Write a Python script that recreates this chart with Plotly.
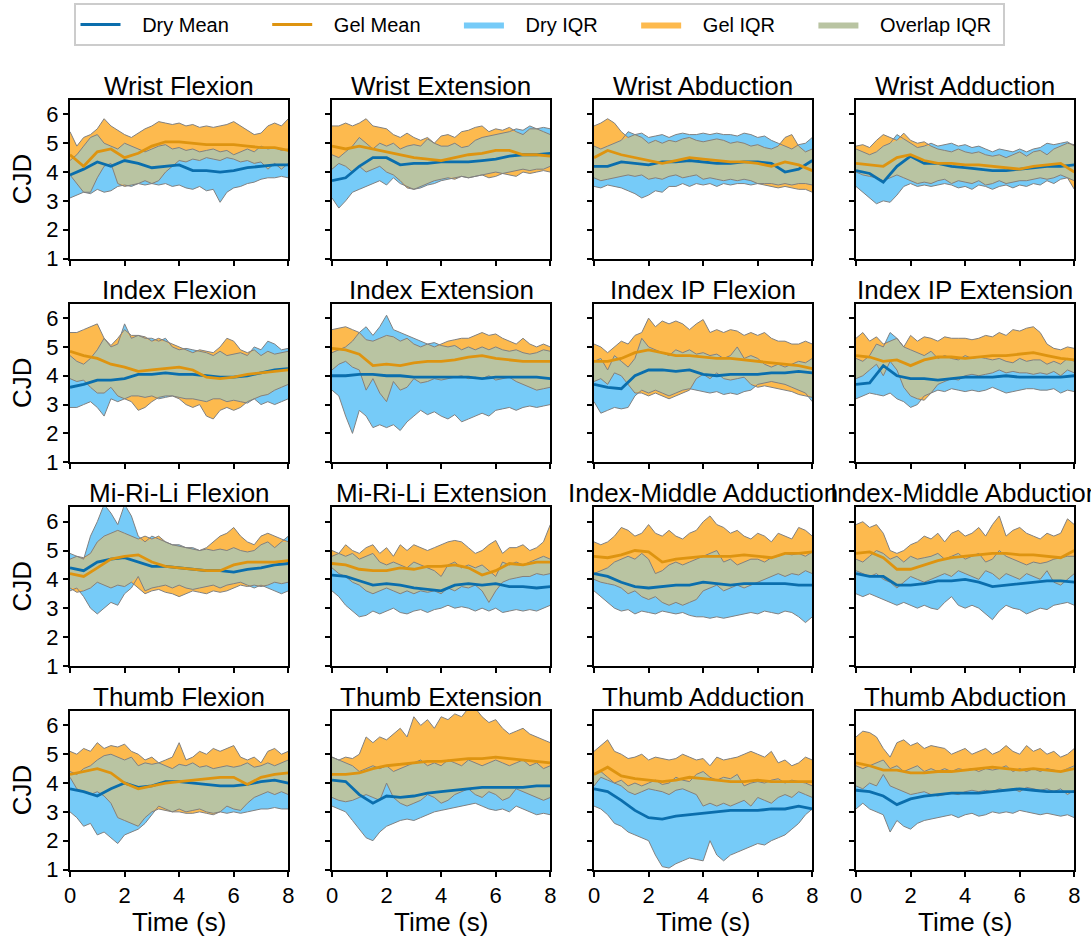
import numpy as np
import plotly.graph_objects as go

TITLES = ["Wrist Flexion", "Wrist Extension", "Wrist Abduction", "Wrist Adduction",
          "Index Flexion", "Index Extension", "Index IP Flexion", "Index IP Extension",
          "Mi-Ri-Li Flexion", "Mi-Ri-Li Extension", "Index-Middle Adduction", "Index-Middle Abduction",
          "Thumb Flexion", "Thumb Extension", "Thumb Adduction", "Thumb Abduction"]

# time grids (s)
TIME_IQR = np.linspace(0, 8, 33)
TIME_MEAN = np.linspace(0, 8, 17)

X_TICKS = [0, 2, 4, 6, 8]
Y_TICKS = [1, 2, 3, 4, 5, 6]

# ---------------- Dry IQR lower bound (Q1) ----------------
DRY_Q1 = {
"Wrist Flexion": [3.1,3.2,3.3,3.25, 3.4,3.3,3.35,3.5, 3.55,3.5,3.6,3.55, 3.6,3.55,3.6,3.5, 3.55,3.45,3.4,3.5, 3.35,3.4,2.95,3.3, 3.45,3.5,3.6,3.65, 3.75,3.8,3.8,3.85, 3.8],
"Wrist Extension": [3.1,2.75,3.0,3.3, 3.4,3.5,3.6,3.7, 3.55,3.8,3.6,3.5, 3.4,3.45,3.55,3.6, 3.7,3.75,3.8,3.85, 3.8,3.85,3.9,3.95, 4.0,3.95,4.0,4.05, 4.1,4.05,4.1,4.1, 4.2],
"Wrist Abduction": [3.5,3.45,3.55,3.5, 3.45,3.35,3.25,3.1, 3.2,3.35,3.3,3.5, 3.5,3.6,3.5,3.6, 3.55,3.6,3.5,3.6, 3.55,3.6,3.6,3.55, 3.6,3.6,3.6,3.55, 3.6,3.55,3.6,3.6, 3.55],
"Wrist Adduction": [3.5,3.3,3.1,2.9, 3.0,2.95,3.2,3.5, 3.6,3.5,3.55,3.5, 3.55,3.6,3.55,3.45, 3.5,3.4,3.55,3.5, 3.4,3.5,3.55,3.45, 3.55,3.5,3.6,3.55, 3.7,3.6,3.75,3.8, 3.7],
"Index Flexion": [2.9,2.9,3.0,3.1, 2.9,2.6,3.2,3.1, 3.2,3.3,3.3,3.25, 3.3,3.2,3.25,3.3, 3.25,3.2,3.2,3.15, 3.1,3.2,3.2,3.1, 3.15,3.1,3.05,3.2, 3.0,3.1,3.0,3.1, 3.2],
"Index Extension": [3.5,3.3,2.6,2.0, 2.8,2.6,2.2,2.3, 2.2,2.3,2.1,2.4, 2.6,2.8,2.65,2.75, 2.6,2.5,2.65,2.4, 2.5,2.6,2.7,2.6, 2.8,2.85,2.9,2.8, 2.9,2.95,2.9,2.95, 3.0],
"Index IP Flexion": [3.1,2.7,2.8,2.9, 2.85,2.9,3.3,3.5, 3.4,3.5,3.4,3.3, 3.4,3.5,3.55,3.5, 3.45,3.4,3.45,3.35, 3.4,3.35,3.45,3.5, 3.7,3.75,3.8,3.75, 3.7,3.6,3.5,3.4, 3.1],
"Index IP Extension": [3.2,3.3,3.4,3.35, 3.3,3.4,3.2,3.1, 2.9,3.0,3.3,3.4, 3.5,3.45,3.55,3.5, 3.45,3.5,3.45,3.5, 3.6,3.5,3.4,3.45, 3.5,3.55,3.55,3.5, 3.5,3.55,3.4,3.5, 3.45],
"Mi-Ri-Li Flexion": [3.6,3.7,3.4,3.0, 2.8,3.0,3.2,3.1, 3.5,3.7,4.1,3.6, 3.7,3.75,3.8,3.7, 3.8,3.7,3.65,3.7, 3.75,3.8,3.7,3.8, 3.85,3.9,3.8,3.7, 3.8,3.7,3.6,3.5, 3.6],
"Mi-Ri-Li Extension": [3.6,3.4,3.1,2.9, 2.7,2.75,2.9,2.8, 2.9,3.0,2.85,2.8, 2.9,2.95,2.85,2.95, 3.0,3.1,3.0,3.05, 3.0,2.9,3.0,2.9, 3.0,2.85,2.9,2.95, 2.9,2.95,2.9,3.0, 3.1],
"Index-Middle Adduction": [3.6,3.4,3.2,3.0, 2.9,2.95,2.8,2.9, 2.85,2.8,2.9,2.85, 2.8,2.85,2.75,2.7, 2.7,2.65,2.7,2.65, 2.7,2.75,2.8,2.85, 2.8,2.9,2.85,2.8, 2.9,2.85,2.7,2.5, 2.7],
"Index-Middle Abduction": [3.5,3.4,3.5,3.4, 3.3,3.2,3.1,3.2, 3.1,3.0,3.1,3.0, 2.95,3.2,3.4,3.1, 3.0,3.1,3.0,2.8, 2.6,2.9,3.1,3.0, 2.95,2.8,2.9,3.0, 2.95,3.1,3.15,3.2, 3.1],
"Thumb Flexion": [3.0,2.8,2.5,2.6, 2.2,2.3,2.1,1.9, 2.2,2.3,2.4,2.6, 2.9,3.2,3.1,3.0, 3.1,3.0,3.05,3.1, 3.0,2.95,3.0,2.95, 3.0,2.95,3.0,3.05, 3.1,3.1,3.15,3.1, 3.1],
"Thumb Extension": [3.2,3.1,3.0,2.7, 2.4,2.1,2.0,2.3, 2.5,2.6,2.7,2.75, 2.7,2.8,2.9,3.0, 3.05,3.1,3.15,3.2, 3.25,3.3,3.2,3.1, 3.05,3.1,3.0,3.2, 3.1,3.0,2.9,2.95, 2.9],
"Thumb Adduction": [3.2,3.1,2.9,2.6, 2.5,2.3,2.2,2.1, 2.0,1.5,1.1,1.05, 1.2,1.3,1.4,1.35, 1.3,2.0,1.5,1.3, 1.5,1.6,1.7,1.8, 1.9,1.85,2.0,2.1, 2.2,2.4,2.6,2.9, 3.1],
"Thumb Abduction": [3.1,3.3,3.1,3.0, 2.9,2.3,2.7,2.5, 2.4,2.6,2.7,2.75, 2.8,2.85,2.9,2.8, 2.9,2.95,2.85,2.9, 3.0,2.95,3.0,2.95, 3.05,3.0,2.95,2.9, 2.95,2.9,2.85,2.9, 2.8],
}

# ---------------- Dry IQR upper bound (Q3) ----------------
DRY_Q3 = {
"Wrist Flexion": [4.4,4.6,4.9,5.2, 5.3,5.0,4.9,4.8, 5.0,4.9,4.8,4.7, 4.8,4.9,4.95,4.8, 4.85,4.75,4.8,4.7, 4.75,4.8,4.7,4.75, 4.6,4.7,4.8,4.7, 4.9,4.8,4.85,4.75, 4.8],
"Wrist Extension": [4.6,4.5,4.7,4.9, 5.2,5.0,4.8,5.0, 4.9,5.0,4.8,4.9, 4.95,4.9,5.15,5.0, 4.9,4.9,5.0,4.85, 4.9,5.1,5.2,5.25, 5.3,5.35,5.4,5.5, 5.45,5.6,5.5,5.55, 5.5],
"Wrist Abduction": [4.9,4.8,4.9,5.0, 5.1,5.4,5.3,5.35, 5.2,5.25,5.3,5.2, 5.3,5.35,5.3,5.3, 5.35,5.3,5.35,5.3, 5.3,5.25,5.35,5.3, 5.2,5.25,5.1,5.0, 4.9,4.8,4.95,5.0, 5.2],
"Wrist Adduction": [4.8,4.7,4.6,4.7, 4.9,5.0,5.3,5.15, 5.0,4.85,4.9,5.0, 4.9,4.95,5.0,4.9, 4.95,4.85,4.9,4.8, 4.7,4.8,4.75,4.7, 4.8,4.7,4.8,4.85, 5.0,4.95,5.0,5.05, 4.9],
"Index Flexion": [4.7,4.5,4.4,4.6, 4.9,5.3,5.0,5.1, 5.8,5.3,5.4,5.3, 5.3,5.2,5.3,5.0, 4.9,4.95,4.9,4.85, 4.8,4.7,4.85,4.7, 4.75,4.8,4.7,5.0, 4.9,5.2,5.1,4.9, 4.95],
"Index Extension": [4.8,4.9,5.0,5.2, 5.5,5.7,5.4,5.7, 6.1,5.6,5.5,5.4, 5.3,5.2,5.1,5.15, 5.05,5.0,5.05,4.9, 5.0,4.9,5.0,4.9, 5.0,4.9,4.85,4.9, 4.8,4.75,4.8,4.9, 4.85],
"Index IP Flexion": [4.5,4.6,4.2,4.7, 4.5,4.3,4.6,5.3, 5.0,4.9,4.8,4.7, 4.9,4.8,4.9,4.75, 4.8,4.7,4.75,4.6, 4.7,5.0,4.6,4.7, 4.6,4.4,4.3,4.4, 4.3,4.4,4.5,4.45, 4.6],
"Index IP Extension": [4.6,4.5,4.7,5.1, 5.0,5.5,5.3,5.0, 4.9,4.8,4.7,4.85, 4.6,4.7,4.6,4.55, 4.7,4.6,4.65,4.6, 4.55,4.6,4.5,4.45, 4.6,4.5,4.55,4.55, 4.4,4.5,4.4,4.6, 4.5],
"Mi-Ri-Li Flexion": [4.9,4.8,4.7,5.5, 6.0,6.6,6.3,5.9, 6.6,6.2,5.5,5.3, 5.5,5.4,5.3,5.2, 5.2,5.1,5.1,5.0, 5.05,5.0,5.05,5.0, 5.1,5.0,4.95,5.0, 5.2,5.3,5.1,5.3, 5.5],
"Mi-Ri-Li Extension": [4.8,4.9,4.8,4.9, 4.7,4.8,4.9,4.6, 4.5,4.6,4.5,4.4, 4.6,4.5,4.4,4.3, 4.1,4.5,4.6,4.4, 4.5,4.4,4.5,4.3, 4.1,4.6,4.5,4.6, 4.5,4.6,4.7,4.8, 4.7],
"Index-Middle Adduction": [4.2,4.3,4.4,4.6, 4.7,4.8,4.7,4.9, 4.7,4.2,4.3,4.5, 4.6,4.5,4.6,4.7, 4.8,4.9,5.0,4.6, 4.7,4.5,4.6,4.7, 4.7,4.6,4.75,4.8, 4.9,4.85,4.9,4.8, 4.95],
"Index-Middle Abduction": [4.7,4.6,4.8,5.0, 4.9,4.7,4.8,4.6, 4.8,4.7,4.75,4.8, 4.9,4.7,4.8,4.9, 4.7,4.8,4.9,4.6, 4.7,5.0,4.8,4.7, 4.6,4.5,4.6,4.55, 4.6,4.7,4.75,4.8, 4.8],
"Thumb Flexion": [4.4,4.3,4.5,4.6, 4.8,4.95,5.0,4.9, 4.8,4.9,4.6,4.7, 4.65,4.7,4.6,4.5, 4.65,4.6,4.7,4.55, 4.6,4.5,4.55,4.6, 4.55,4.6,4.7,4.55, 4.6,4.7,4.6,4.7, 4.8],
"Thumb Extension": [4.9,4.8,4.7,4.6, 4.4,4.5,4.6,4.5, 4.6,4.4,4.5,4.6, 4.7,4.8,4.6,4.7, 4.6,4.8,4.7,4.6, 4.8,4.7,4.6,4.7, 4.8,4.7,4.6,4.7, 4.8,4.6,4.7,4.5, 4.6],
"Thumb Adduction": [4.3,4.4,4.2,4.0, 4.1,3.9,4.0,3.9, 4.0,4.1,3.95,4.0, 4.2,4.1,4.05,4.3, 4.4,4.2,4.1,4.2, 4.15,4.3,3.9,4.0, 4.05,4.0,4.1,4.15, 4.0,4.1,4.05,4.0, 3.9],
"Thumb Abduction": [4.6,4.5,4.6,4.7, 4.8,4.5,4.6,4.4, 4.5,4.6,4.4,4.5, 4.4,4.5,4.4,4.5, 4.45,4.5,4.4,4.5, 4.45,4.5,4.6,4.4, 4.5,4.4,4.5,4.4, 4.5,4.45,4.4,4.5, 4.6],
}

# ---------------- Gel IQR lower bound (Q1) ----------------
GEL_Q1 = {
"Wrist Flexion": [3.9,3.6,3.3,3.3, 3.8,4.2,4.3,3.6, 3.5,3.55,3.6,3.7, 3.6,3.7,4.0,4.2, 4.4,4.35,4.45,4.4, 4.5,4.45,4.4,4.5, 4.45,4.35,4.4,4.3, 4.35,4.1,4.3,4.1, 4.3],
"Wrist Extension": [4.1,4.3,4.2,4.0, 4.2,4.0,4.1,4.2, 4.0,3.9,3.7,3.45, 3.4,3.5,3.6,3.7, 3.75,3.8,3.75,3.85, 3.8,3.85,3.9,3.8, 3.85,3.95,3.9,3.85, 4.0,3.95,4.0,4.05, 4.0],
"Wrist Abduction": [3.8,3.7,3.75,3.8, 3.85,3.9,3.85,3.9, 3.75,3.8,3.75,3.85, 3.9,3.8,3.85,3.9, 3.75,3.8,3.75,3.7, 3.75,3.7,3.75,3.7, 3.6,3.55,3.5,3.45, 3.5,3.45,3.4,3.4, 3.3],
"Wrist Adduction": [4.0,3.9,3.85,3.8, 3.7,3.8,3.9,3.8, 3.7,3.6,3.65,3.6, 3.7,3.75,3.6,3.7, 3.65,3.6,3.7,3.55, 3.6,3.7,3.6,3.65, 3.7,3.7,3.75,3.8, 3.75,3.8,3.9,3.8, 3.4],
"Index Flexion": [3.9,3.8,3.85,3.6, 3.4,3.4,3.6,3.3, 3.2,3.1,2.8,2.9, 3.1,3.25,3.3,3.3, 3.2,3.0,2.9,3.0, 2.6,2.5,2.8,2.9, 2.8,2.9,3.1,3.2, 3.3,3.35,3.5,3.6, 3.7],
"Index Extension": [4.2,4.4,4.5,4.3, 4.2,3.5,3.9,3.4, 3.1,3.8,3.5,3.6, 3.9,3.75,3.8,3.9, 3.85,3.9,3.95,4.0, 3.9,3.95,3.9,4.0, 3.85,3.9,3.95,3.8, 3.7,3.6,3.5,3.55, 3.6],
"Index IP Flexion": [3.8,3.9,3.7,4.1, 4.0,3.7,3.4,3.4, 3.3,3.4,3.3,3.2, 3.3,3.4,3.5,3.9, 4.05,3.9,4.1,3.9, 3.85,3.9,3.95,3.7, 3.6,3.65,3.6,3.55, 3.5,3.45,3.35,3.3, 3.25],
"Index IP Extension": [3.9,4.0,4.2,4.4, 4.0,4.5,4.2,3.6, 3.3,3.2,3.15,3.4, 3.7,3.8,3.9,3.85, 4.0,4.05,4.0,4.05, 4.1,4.2,4.1,4.15, 4.1,4.1,4.05,4.1, 4.05,4.15,4.0,4.2, 4.1],
"Mi-Ri-Li Flexion": [3.7,3.55,3.6,3.7, 3.9,3.8,3.7,3.8, 3.75,3.9,3.7,3.5, 3.6,3.65,3.55,3.5, 3.4,3.5,3.6,3.55, 3.5,3.6,3.55,3.6, 3.7,3.8,3.75,3.8, 3.75,3.8,3.9,3.85, 3.9],
"Mi-Ri-Li Extension": [4.4,4.2,4.1,3.9, 3.8,3.6,3.5,3.6, 3.7,3.6,3.5,3.6, 3.5,3.6,3.55,3.6, 3.5,3.7,3.6,3.75, 3.7,3.8,3.6,3.2, 3.6,3.9,4.0,4.05, 4.1,4.1,4.2,4.15, 4.2],
"Index-Middle Adduction": [4.0,3.9,3.85,3.8, 3.7,3.5,3.6,3.4, 3.3,3.4,3.2,3.1, 3.2,3.1,3.2,3.3, 3.6,3.7,3.8,3.6, 3.7,3.8,3.7,3.8, 3.9,4.0,4.1,4.2, 4.1,4.2,4.15,4.3, 4.2],
"Index-Middle Abduction": [4.3,4.2,4.1,4.2, 4.0,3.9,3.7,3.9, 4.1,4.0,3.9,4.0, 4.1,4.2,4.1,4.3, 4.2,4.1,4.0,4.3, 4.2,4.0,4.2,4.1, 4.0,4.2,4.1,4.0, 4.3,3.9,3.8,4.0, 4.2],
"Thumb Flexion": [4.2,3.8,3.7,3.6, 3.7,3.55,3.3,2.8, 2.7,2.6,2.5,2.8, 3.0,3.1,3.05,3.0, 3.0,2.95,2.95,3.0, 2.95,2.9,3.0,3.2, 3.1,3.05,3.3,3.5, 3.6,3.7,3.6,3.7, 3.6],
"Thumb Extension": [3.5,3.4,3.35,3.4, 3.5,3.6,3.5,3.4, 4.0,3.5,3.3,3.2, 3.3,3.4,3.6,3.5, 3.3,3.4,3.6,3.7, 3.8,3.6,3.5,3.7, 3.6,3.4,3.5,3.8, 3.7,3.6,3.5,3.4, 3.5],
"Thumb Adduction": [3.9,4.2,4.1,4.0, 3.9,3.7,3.6,3.7, 3.8,3.75,3.7,3.6, 3.75,3.8,3.7,3.6, 3.2,3.3,3.2,3.3, 3.2,3.3,3.4,3.2, 3.5,3.4,3.3,3.5, 3.6,3.5,3.7,3.6, 3.5],
"Thumb Abduction": [3.9,3.8,4.0,3.9, 4.3,3.9,3.8,3.7, 3.6,3.65,3.7,3.6, 3.55,3.6,3.65,3.6, 3.7,3.75,3.7,3.75, 3.7,3.8,3.75,3.8, 3.7,3.85,3.8,3.75, 3.8,3.7,3.8,3.6, 3.75],
}

# ---------------- Gel IQR upper bound (Q3) ----------------
GEL_Q3 = {
"Wrist Flexion": [5.4,4.9,5.2,5.3, 5.5,5.85,5.6,5.45, 5.3,5.2,5.35,5.5, 5.6,5.75,5.7,5.65, 5.7,5.6,5.65,5.55, 5.6,5.55,5.6,5.65, 5.75,5.6,5.45,5.3, 5.35,5.6,5.7,5.6, 5.85],
"Wrist Extension": [5.6,5.6,5.7,5.6, 5.7,5.85,5.6,5.55, 5.5,5.3,5.2,5.35, 5.2,5.1,5.2,5.0, 5.25,5.3,5.2,5.4, 5.45,5.55,5.6,5.4, 5.5,5.45,5.55,5.4, 5.3,5.5,5.5,5.4, 5.3],
"Wrist Abduction": [5.6,5.7,5.85,5.7, 5.4,5.2,5.3,5.2, 5.0,5.1,5.0,5.1, 5.05,5.15,5.2,5.1, 5.05,5.1,5.15,5.1, 5.0,5.05,5.0,4.9, 4.95,4.85,4.8,4.9, 5.2,5.3,4.9,4.7, 4.8],
"Wrist Adduction": [4.9,4.95,4.85,5.1, 5.3,5.2,5.1,5.35, 5.1,5.0,5.05,4.9, 4.8,4.75,4.7,4.8, 4.7,4.65,4.7,4.6, 4.55,4.6,4.5,4.6, 4.7,4.55,4.7,4.75, 4.6,4.8,4.9,5.0, 4.95],
"Index Flexion": [5.5,5.5,5.6,5.7, 5.8,5.3,5.05,5.3, 5.6,5.4,5.4,5.35, 5.2,5.3,5.2,5.1, 5.0,4.9,4.8,4.9, 4.85,4.8,5.0,5.3, 5.2,4.9,4.8,4.9, 4.7,4.85,4.75,4.8, 4.85],
"Index Extension": [5.6,5.65,5.7,5.6, 5.5,5.25,5.2,5.3, 5.4,5.35,5.2,5.3, 5.1,5.0,5.1,5.0, 5.1,5.2,5.25,5.3, 5.3,5.4,5.5,5.4, 5.45,5.3,5.2,5.1, 5.3,5.1,5.0,5.1, 5.0],
"Index IP Flexion": [5.1,5.0,4.8,5.0, 5.2,5.1,5.4,5.5, 6.0,5.7,5.9,5.8, 5.9,5.8,5.6,5.8, 5.95,5.5,5.6,5.5, 5.6,5.55,5.4,5.5, 5.4,5.5,5.3,5.2, 5.2,5.1,5.1,5.2, 5.1],
"Index IP Extension": [5.3,5.5,5.2,5.35, 5.1,5.2,5.3,5.0, 5.4,5.2,5.35,5.3, 5.2,5.35,5.3,5.3, 5.3,5.25,5.3,5.4, 5.35,5.5,5.4,5.6, 5.55,5.65,5.7,5.5, 5.1,4.95,4.9,5.0, 4.95],
"Mi-Ri-Li Flexion": [4.7,4.8,4.75,4.9, 5.3,5.5,5.6,5.7, 5.6,5.5,5.4,5.5, 5.4,5.5,5.3,5.2, 5.15,5.1,5.05,5.0, 5.1,5.3,5.5,5.6, 5.8,5.5,5.3,5.2, 5.5,5.6,5.5,5.4, 5.3],
"Mi-Ri-Li Extension": [5.0,4.9,5.2,5.0, 4.9,5.1,5.2,4.9, 5.1,4.8,5.2,5.0, 5.2,5.1,5.0,5.1, 5.2,5.3,5.35,5.3, 5.1,4.9,5.0,5.2, 5.35,4.9,5.1,5.1, 5.2,5.0,5.1,5.3, 5.9],
"Index-Middle Adduction": [5.3,5.2,5.3,5.5, 5.8,5.7,5.5,5.6, 5.9,5.6,5.5,5.7, 5.5,5.4,5.6,5.7, 6.0,6.2,5.9,5.8, 5.6,5.7,5.5,5.4, 5.6,5.5,5.3,5.6, 5.5,5.4,5.8,5.7, 5.5],
"Index-Middle Abduction": [5.9,6.0,5.8,5.9, 5.6,5.0,4.9,5.0, 5.2,5.3,5.5,5.4, 5.6,5.3,5.6,5.7, 5.5,5.6,5.8,5.5, 5.9,6.2,5.5,5.7, 5.8,5.6,5.5,5.4, 5.6,5.5,5.6,6.1, 5.9],
"Thumb Flexion": [5.1,5.0,5.2,5.1, 5.4,5.2,5.3,5.25, 5.35,5.1,5.0,4.8, 4.9,4.7,4.8,4.9, 5.4,4.8,4.9,5.1, 5.0,5.2,5.1,5.2, 5.3,4.9,4.8,4.9, 4.7,5.1,5.2,5.0, 5.1],
"Thumb Extension": [4.9,4.8,4.9,4.85, 5.0,5.6,5.4,5.6, 5.5,5.7,5.9,5.6, 6.3,6.0,6.2,5.9, 6.3,6.2,6.4,6.3, 6.6,6.6,6.3,6.1, 6.2,5.9,5.7,5.8, 5.9,5.7,5.6,5.5, 5.4],
"Thumb Adduction": [5.1,5.3,5.5,5.1, 5.0,4.85,4.9,5.0, 4.8,4.9,4.85,4.8, 4.85,5.0,4.9,4.8, 4.85,4.6,4.9,4.8, 4.85,4.9,5.0,5.1, 5.0,4.9,5.1,4.7, 4.8,4.6,4.7,4.9, 4.8],
"Thumb Abduction": [5.6,5.8,5.75,5.6, 5.2,4.9,5.4,5.5, 5.3,5.4,5.2,5.3, 5.25,5.2,5.0,5.1, 5.2,5.0,5.1,5.2, 5.0,5.1,5.3,5.1, 5.0,5.3,5.1,5.2, 5.0,5.1,4.9,5.0, 5.2],
}

# ---------------- Means (every 0.5 s) ----------------
DRY_MEAN = {
"Wrist Flexion": [3.9,4.1,4.35,4.2,4.4,4.3,4.15,4.2,4.25,4.05,4.05,4.0,4.05,4.15,4.2,4.25,4.25],
"Wrist Extension": [3.7,3.8,4.2,4.5,4.5,4.25,4.3,4.3,4.35,4.35,4.35,4.4,4.45,4.55,4.6,4.6,4.65],
"Wrist Abduction": [4.2,4.2,4.35,4.3,4.25,4.35,4.35,4.4,4.35,4.3,4.3,4.35,4.35,4.3,4.0,4.1,4.4],
"Wrist Adduction": [4.05,3.95,3.65,4.2,4.55,4.3,4.3,4.2,4.15,4.1,4.05,4.05,4.1,4.15,4.2,4.2,4.25],
"Index Flexion": [3.6,3.7,3.85,3.85,3.9,4.05,4.05,4.1,4.05,4.05,4.0,3.95,3.95,4.0,4.1,4.2,4.25],
"Index Extension": [4.0,4.0,4.05,4.05,4.0,4.0,3.95,3.95,3.95,3.95,3.95,3.9,3.95,3.95,3.95,3.95,3.9],
"Index IP Flexion": [3.7,3.6,3.55,4.0,4.2,4.2,4.15,4.2,4.05,4.0,4.05,4.05,4.05,4.1,4.1,4.15,4.1],
"Index IP Extension": [3.7,3.75,4.35,4.0,3.9,3.9,3.85,3.9,3.95,3.95,3.95,4.0,3.95,3.95,3.95,3.95,4.0],
"Mi-Ri-Li Flexion": [4.4,4.3,4.6,4.7,4.75,4.6,4.45,4.45,4.4,4.35,4.3,4.3,4.25,4.35,4.4,4.5,4.55],
"Mi-Ri-Li Extension": [4.15,4.1,3.95,3.8,3.85,3.8,3.7,3.65,3.6,3.8,3.85,3.8,3.85,3.75,3.75,3.7,3.75],
"Index-Middle Adduction": [4.2,4.1,3.9,3.75,3.7,3.75,3.8,3.8,3.9,3.85,3.8,3.85,3.85,3.85,3.85,3.8,3.8],
"Index-Middle Abduction": [4.2,4.1,4.1,3.8,3.8,3.85,3.95,3.95,4.0,3.9,3.75,3.8,3.85,3.9,3.95,3.95,3.9],
"Thumb Flexion": [3.8,3.7,3.55,3.8,4.0,3.85,3.9,4.05,4.05,4.0,3.95,3.9,3.9,3.95,4.05,4.1,4.0],
"Thumb Extension": [4.1,4.05,3.6,3.3,3.55,3.5,3.55,3.65,3.7,3.75,3.8,3.85,3.85,3.85,3.85,3.9,3.9],
"Thumb Adduction": [3.8,3.7,3.4,3.05,2.8,2.75,2.85,2.9,2.95,3.0,3.05,3.05,3.05,3.1,3.1,3.2,3.1],
"Thumb Abduction": [3.75,3.7,3.55,3.25,3.45,3.55,3.6,3.65,3.65,3.65,3.7,3.75,3.8,3.75,3.7,3.7,3.7],
}

GEL_MEAN = {
"Wrist Flexion": [4.6,4.2,4.7,4.8,4.5,4.65,4.9,5.05,5.05,5.0,4.95,4.95,4.95,4.9,4.85,4.85,4.75],
"Wrist Extension": [4.9,4.8,4.9,4.8,4.7,4.6,4.5,4.45,4.4,4.5,4.6,4.65,4.75,4.75,4.6,4.6,4.55],
"Wrist Abduction": [4.5,4.75,4.6,4.5,4.4,4.3,4.4,4.5,4.45,4.4,4.35,4.35,4.3,4.2,4.35,4.25,4.05],
"Wrist Adduction": [4.3,4.25,4.2,4.5,4.6,4.4,4.3,4.3,4.25,4.25,4.2,4.15,4.1,4.2,4.25,4.3,4.0],
"Index Flexion": [4.85,4.7,4.6,4.4,4.3,4.15,4.2,4.25,4.3,4.2,3.95,3.9,3.95,4.05,4.1,4.15,4.2],
"Index Extension": [4.95,4.9,4.75,4.35,4.4,4.35,4.45,4.5,4.5,4.55,4.65,4.7,4.6,4.55,4.5,4.5,4.5],
"Index IP Flexion": [4.5,4.5,4.6,4.8,4.9,4.8,4.7,4.7,4.65,4.6,4.6,4.55,4.5,4.45,4.4,4.35,4.25],
"Index IP Extension": [4.7,4.65,4.5,4.55,4.35,4.55,4.65,4.65,4.6,4.65,4.7,4.7,4.75,4.8,4.7,4.6,4.55],
"Mi-Ri-Li Flexion": [4.2,4.1,4.4,4.7,4.8,4.85,4.6,4.45,4.4,4.35,4.3,4.3,4.5,4.6,4.6,4.6,4.65],
"Mi-Ri-Li Extension": [4.55,4.5,4.35,4.3,4.3,4.4,4.35,4.45,4.45,4.5,4.4,4.15,4.3,4.55,4.5,4.6,4.6],
"Index-Middle Adduction": [4.8,4.75,4.85,5.0,4.95,4.6,4.7,4.75,4.8,4.8,4.8,4.85,4.8,4.75,4.9,4.9,4.95],
"Index-Middle Abduction": [4.9,4.95,4.75,4.35,4.35,4.5,4.65,4.75,4.8,4.85,4.9,4.9,4.85,4.85,4.8,4.75,5.0],
"Thumb Flexion": [4.3,4.4,4.5,4.35,4.0,3.8,3.9,4.0,4.05,4.1,4.15,4.2,4.2,3.95,4.2,4.3,4.35],
"Thumb Extension": [4.3,4.3,4.35,4.5,4.6,4.65,4.7,4.75,4.75,4.8,4.85,4.85,4.9,4.85,4.8,4.75,4.7],
"Thumb Adduction": [4.3,4.55,4.25,4.15,4.1,4.05,4.1,4.2,4.15,4.1,4.05,4.05,4.1,4.05,4.05,4.05,4.05],
"Thumb Abduction": [4.7,4.6,4.45,4.45,4.35,4.35,4.4,4.4,4.45,4.5,4.55,4.5,4.45,4.5,4.45,4.4,4.5],
}

for name in TITLES:
    for d, n in ((DRY_Q1, 33), (DRY_Q3, 33), (GEL_Q1, 33), (GEL_Q3, 33), (DRY_MEAN, 17), (GEL_MEAN, 17)):
        assert len(d[name]) == n, (name, len(d[name]), n)

# ---------------- style ----------------
FONT = "Liberation Sans, Arial, Helvetica, sans-serif"
DRY_FILL = "#76CBF8"
GEL_FILL = "#FDBA4E"
OVL_FILL = "#B9C4A2"
EDGE = "#808080"
DRY_LINE = "#0A6EAD"
GEL_LINE = "#DE9410"

TITLE_SIZE = 26
TICK_SIZE = 22
LEGEND_SIZE = 20
NB = "\u00a0"

W, H = 1091, 938
COL_X = [70, 332, 594, 856]
PW = 218.3
ROW_Y = [100, 303.7, 507.3, 711]
PH = 158.5

fig = go.Figure()
annotations = []
layout_axes = {}


def lbl(s, last=False):
    return NB * 3 + s + (NB if last else NB * 6)


for i, name in enumerate(TITLES):
    r, c = divmod(i, 4)
    n = i + 1
    xa = "x" if n == 1 else f"x{n}"
    ya = "y" if n == 1 else f"y{n}"
    first = (i == 0)

    t = TIME_IQR
    dlo = np.array(DRY_Q1[name]); dhi = np.array(DRY_Q3[name])
    glo = np.array(GEL_Q1[name]); ghi = np.array(GEL_Q3[name])
    olo = np.maximum(dlo, glo)
    ohi = np.maximum(np.minimum(dhi, ghi), olo)
    tt = np.concatenate([t, t[::-1]])

    def band(hi, lo, color, label, rank, last=False):
        return go.Scatter(x=tt, y=np.concatenate([hi, lo[::-1]]), xaxis=xa, yaxis=ya,
                          mode="lines", fill="toself", fillcolor=color,
                          line=dict(width=0, color=color), hoverinfo="skip",
                          name=lbl(label, last), legendgroup=label, showlegend=first, legendrank=rank)

    fig.add_trace(band(dhi, dlo, DRY_FILL, "Dry IQR", 3))
    fig.add_trace(band(ghi, glo, GEL_FILL, "Gel IQR", 4))
    fig.add_trace(band(ohi, olo, OVL_FILL, "Overlap IQR", 5, last=True))
    for arr in (dlo, dhi, glo, ghi):
        fig.add_trace(go.Scatter(x=t, y=arr, xaxis=xa, yaxis=ya, mode="lines",
                                 line=dict(color=EDGE, width=1), showlegend=False, hoverinfo="skip"))
    fig.add_trace(go.Scatter(x=TIME_MEAN, y=DRY_MEAN[name], xaxis=xa, yaxis=ya, mode="lines",
                             line=dict(color=DRY_LINE, width=2.8), name=lbl("Dry Mean"),
                             legendgroup="Dry Mean", showlegend=first, legendrank=1))
    fig.add_trace(go.Scatter(x=TIME_MEAN, y=GEL_MEAN[name], xaxis=xa, yaxis=ya, mode="lines",
                             line=dict(color=GEL_LINE, width=2.8), name=lbl("Gel Mean"),
                             legendgroup="Gel Mean", showlegend=first, legendrank=2))

    x0 = COL_X[c] / W
    x1 = (COL_X[c] + PW) / W
    ytop = 1 - ROW_Y[r] / H
    ybot = 1 - (ROW_Y[r] + PH) / H

    common = dict(showline=True, linecolor="black", linewidth=2, mirror=True,
                  ticks="outside", ticklen=5, tickwidth=1.6, tickcolor="black",
                  showgrid=False, zeroline=False, automargin=False,
                  tickfont=dict(family=FONT, size=TICK_SIZE, color="black"))
    layout_axes["xaxis" if n == 1 else f"xaxis{n}"] = dict(
        domain=[x0, x1], anchor=ya, range=[0, 8], tickvals=X_TICKS,
        showticklabels=(r == 3), ticklabelstandoff=0, **common)
    layout_axes["yaxis" if n == 1 else f"yaxis{n}"] = dict(
        domain=[ybot, ytop], anchor=xa, range=[1, 6.5], tickvals=Y_TICKS,
        showticklabels=(c == 0), **common)

    annotations.append(dict(text=name, x=(x0 + x1) / 2, y=ytop, xref="paper", yref="paper",
                            xanchor="center", yanchor="bottom", yshift=-3, showarrow=False,
                            font=dict(family=FONT, size=TITLE_SIZE, color="black")))
    if c == 0:
        annotations.append(dict(text="CJD", x=22 / W, y=(ytop + ybot) / 2, xref="paper", yref="paper",
                                xanchor="center", yanchor="middle", textangle=-90, showarrow=False,
                                font=dict(family=FONT, size=TITLE_SIZE, color="black")))
    if r == 3:
        annotations.append(dict(text="Time (s)", x=(x0 + x1) / 2, y=0, xref="paper", yref="paper",
                                xanchor="center", yanchor="bottom", yshift=-1, showarrow=False,
                                font=dict(family=FONT, size=TITLE_SIZE, color="black")))

fig.update_layout(
    width=W, height=H,
    margin=dict(l=0, r=0, t=0, b=0, pad=0, autoexpand=False),
    paper_bgcolor="white", plot_bgcolor="white",
    font=dict(family=FONT, color="black"),
    annotations=annotations,
    showlegend=True,
    legend=dict(orientation="h", x=539 / W, xanchor="center", y=1 - 3 / H, yanchor="top",
                bordercolor="#cccccc", borderwidth=2, bgcolor="white",
                font=dict(family=FONT, size=LEGEND_SIZE, color="black"),
                itemwidth=40, traceorder="normal"),
    **layout_axes,
)

fig.write_html("out.html")
